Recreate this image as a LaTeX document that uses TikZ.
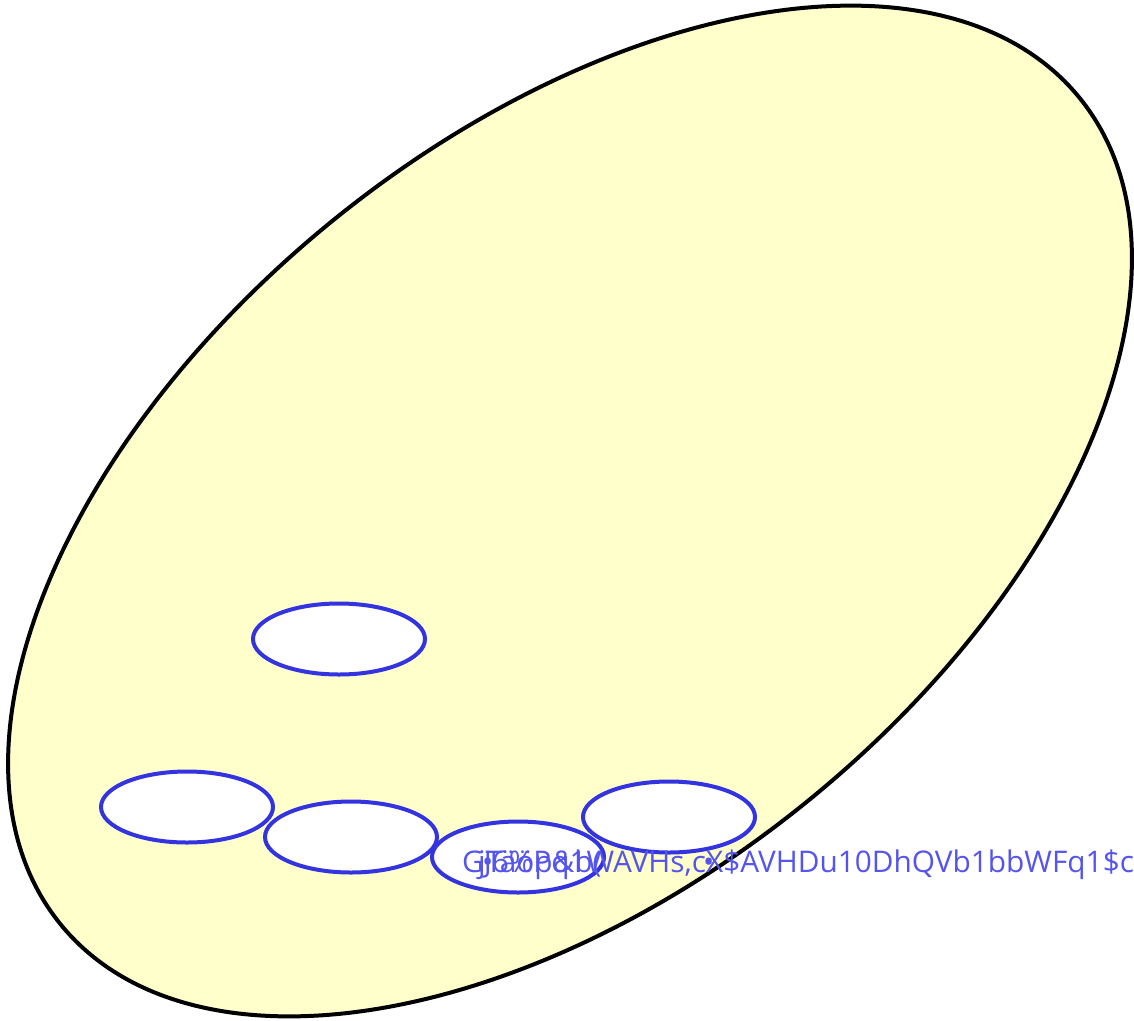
\documentclass[tikz,border=0pt]{standalone}
\usepackage{fontspec}
\setmainfont{Open Sans}
\usetikzlibrary{shapes.geometric}
\definecolor{fillY}{HTML}{FFFFCC}
\definecolor{blueL}{HTML}{3333E0}
\definecolor{blueT}{HTML}{5555EE}
\tikzset{
  outer/.style={draw=black, line width=4pt, fill=fillY},
  inner/.style={draw=blueL, line width=4pt, fill=white, ellipse, minimum width=172pt, minimum height=71pt, inner sep=0pt},
  lbl/.style={text=blueT, font=\fontsize{29.8}{33}\selectfont, inner sep=0pt, anchor=base west}
}
\begin{document}
\begin{tikzpicture}[x=1pt,y=1pt]
\useasboundingbox (0,0) rectangle (1134,-1020);
\draw[outer, rotate around={39:(570,-511)}] (570,-511) ellipse [x radius=656, y radius=375];
\node[inner] (e1) at (339,-639) {};
\node[inner] (e2) at (187,-807) {};
\node[inner] (e3) at (351,-837) {};
\node[inner] (e4) at (518,-857) {};
\node[inner] (e5) at (669,-817) {};
\node[lbl] (t1) at (462,-872) {GJ6\%Pq1WAVHs,cX\$AVHDu10DhQVb1bbWFq1\$c};
\node[lbl] (t2) at (478,-872) {jTäöp\&b(};
\node[lbl] (t3) at (482,-872) {•};
\node[lbl] (t4) at (703,-872) {•};
\end{tikzpicture}
\end{document}
